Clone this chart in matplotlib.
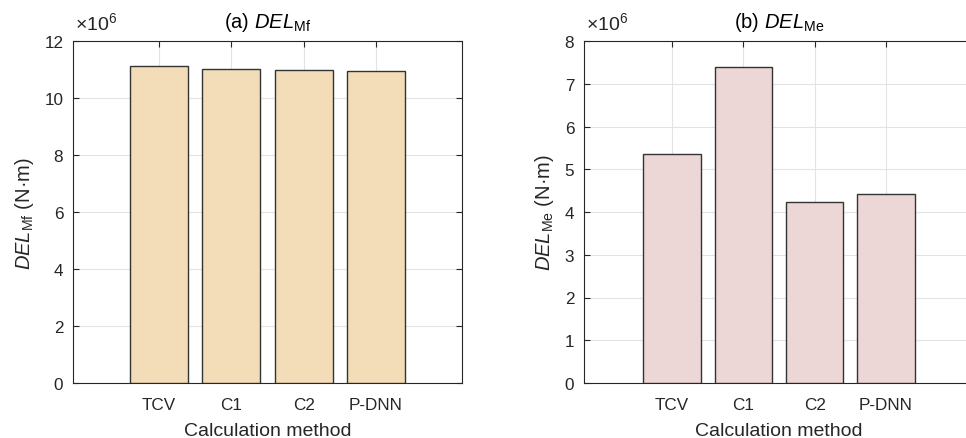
import matplotlib.pyplot as plt
from matplotlib.ticker import MultipleLocator

plt.rcParams['font.family'] = ['Liberation Sans', 'DejaVu Sans']
plt.rcParams['mathtext.fontset'] = 'custom'
plt.rcParams['mathtext.rm'] = 'Liberation Sans'
plt.rcParams['mathtext.it'] = 'Liberation Sans:italic'

# data (values in units of 1e6 N·m)
methods = ['TCV', 'C1', 'C2', 'P-DNN']
del_mf = [11.13, 11.03, 10.98, 10.94]
del_me = [5.35, 7.39, 4.24, 4.43]

fig = plt.figure(figsize=(9.66, 4.39), dpi=100)
W, H = 966, 439

def make_axes(x0, x1, y0, y1):
    return fig.add_axes([x0 / W, 1 - y1 / H, (x1 - x0) / W, (y1 - y0) / H])

ax1 = make_axes(73, 462, 42, 384)
ax2 = make_axes(584, 974, 42, 384)

axc = '#262626'
paineis = [
    (ax1, del_mf, '#F2DDB8', 12, 2, '(a) ', 'Mf', (-0.19, 5.19)),
    (ax2, del_me, '#ECD6D6', 8, 1, '(b) ', 'Me', (-0.234, 5.234)),
]

for ax, vals, cor, ymax, passo, pref, sub, xl in paineis:
    x = list(range(1, len(methods) + 1))
    ax.bar(x, vals, width=0.8, color=cor, edgecolor='#333333', linewidth=1.0, zorder=3)
    ax.set_xlim(*xl)
    ax.set_ylim(0, ymax)
    ax.set_xticks(x)
    ax.set_xticklabels(methods)
    ax.yaxis.set_major_locator(MultipleLocator(passo))
    ax.grid(True, color='#E3E3E3', linewidth=0.8, zorder=0)
    ax.set_axisbelow(True)
    ax.tick_params(direction='in', length=4, width=0.8, colors=axc, labelsize=12.3,
                   top=True, right=True)
    ax.tick_params(axis='x', pad=10)
    ax.tick_params(axis='y', pad=7)
    for s in ax.spines.values():
        s.set_color(axc)
        s.set_linewidth(0.8)
    ax.set_xlabel('Calculation method', fontsize=14, color=axc, labelpad=7)
    ax.set_ylabel(r'$\mathit{DEL}_{\mathrm{' + sub + r'}}$ (N·m)', fontsize=14.5, color=axc, labelpad=6)
    ax.set_title(pref + r'$\mathit{DEL}_{\mathrm{' + sub + r'}}$', fontsize=14.5, color='black', pad=10)
    ax.text(0.005, 1.022, r'$\times10^{6}$', transform=ax.transAxes, fontsize=14,
            color=axc, ha='left', va='bottom')

plt.savefig('out.png', dpi=100)
